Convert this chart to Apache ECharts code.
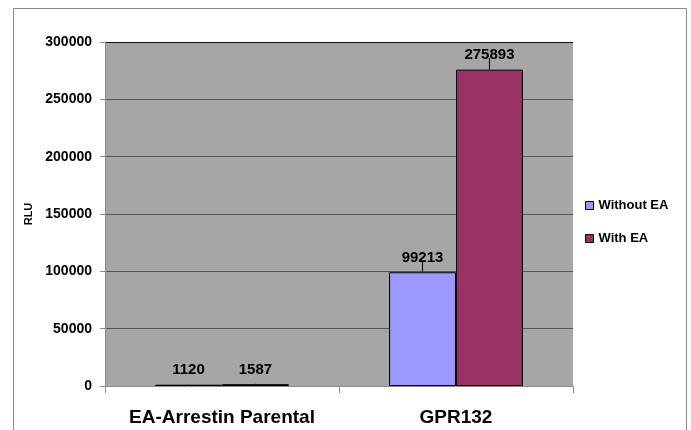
<!DOCTYPE html>
<html><head><meta charset="utf-8">
<script src="https://cdn.jsdelivr.net/npm/echarts@6/dist/echarts.min.js"></script>
<style>html,body{margin:0;padding:0;background:#fff}#c{width:691px;height:430px}</style>
</head><body><div id="c"></div>
<script>
const categories = ['EA-Arrestin Parental', 'GPR132'];
const withoutEA = [1120, 99213];
const withEA = [1587, 275893];
const withoutEAErr = [300, 9600];
const withEAErr = [300, 10000];
const yTicks = [0, 50000, 100000, 150000, 200000, 250000, 300000];

const FONT = 'Liberation Sans';
const BAR_FRAC = 0.286;

function errSeries(name, vals, errs, side) {
  return {
    type: 'custom', name: name + ' err', silent: true, z: 5,
    data: vals.map((v, i) => [i, v, errs[i]]),
    renderItem: function (params, api) {
      const c = api.value(0), v = api.value(1), e = api.value(2);
      const band = api.size([1, 0])[0];
      const off = side * band * BAR_FRAC / 2;
      const p0 = api.coord([c, v]);
      const p1 = api.coord([c, v + e]);
      return { type: 'line', shape: { x1: p0[0] + off, y1: p0[1], x2: p1[0] + off, y2: p1[1] },
        style: { stroke: '#000', lineWidth: 1 } };
    }
  };
}

const chart = echarts.init(document.getElementById('c'), null, { renderer: 'canvas' });
chart.setOption({
  animation: false,
  backgroundColor: '#fff',
  textStyle: { fontFamily: FONT },
  graphic: [{ type: 'rect', shape: { x: 13.5, y: 8.5, width: 673, height: 440 },
    style: { fill: 'none', stroke: '#8a8a8a', lineWidth: 1 }, z: -1 }],
  grid: { left: 105, right: 118, top: 42, bottom: 44, show: true, backgroundColor: '#a6a6a6', borderWidth: 0 },
  legend: {
    orient: 'vertical', left: 580, top: 194, itemWidth: 8, itemHeight: 8, itemGap: 20,
    icon: 'rect',
    data: [{ name: 'Without EA', itemStyle: { borderColor: '#000', borderWidth: 1 } },
           { name: 'With EA', itemStyle: { borderColor: '#000', borderWidth: 1 } }],
    textStyle: { fontFamily: FONT, fontWeight: 'bold', fontSize: 13, color: '#000' }
  },
  xAxis: {
    type: 'category', data: categories,
    axisLine: { lineStyle: { color: '#8c8c8c' } },
    axisTick: { show: true, interval: 0, length: 7, lineStyle: { color: '#8c8c8c' } },
    axisLabel: { interval: 0, hideOverlap: false, fontFamily: FONT, fontWeight: 'bold', fontSize: 19, color: '#000', margin: 22 }
  },
  yAxis: {
    type: 'value', min: 0, max: 300000, interval: 50000,
    name: 'RLU', nameLocation: 'middle', nameGap: 70, nameRotate: 90,
    nameTextStyle: { fontFamily: FONT, fontWeight: 'bold', fontSize: 11, color: '#000' },
    axisLine: { show: true, lineStyle: { color: '#8c8c8c' } },
    axisTick: { show: true, length: 5, lineStyle: { color: '#8c8c8c' } },
    axisLabel: { fontFamily: FONT, fontWeight: 'bold', fontSize: 14, color: '#000', margin: 13,
      formatter: v => yTicks.includes(v) ? String(v) : '' },
    splitLine: { lineStyle: { color: ['#555', '#555', '#555', '#555', '#555', '#555', '#111'], width: 1 } }
  },
  series: [
    { name: 'Without EA', type: 'bar', data: withoutEA, barWidth: (BAR_FRAC * 100) + '%', barGap: '0%',
      itemStyle: { color: '#9999ff', borderColor: '#000', borderWidth: 1 },
      label: { show: true, position: 'top', distance: 7, fontFamily: FONT, fontWeight: 'bold', fontSize: 15, color: '#000' } },
    { name: 'With EA', type: 'bar', data: withEA, barWidth: (BAR_FRAC * 100) + '%', barGap: '0%',
      itemStyle: { color: '#993366', borderColor: '#000', borderWidth: 1 },
      label: { show: true, position: 'top', distance: 7, fontFamily: FONT, fontWeight: 'bold', fontSize: 15, color: '#000' } },
    errSeries('Without EA', withoutEA, withoutEAErr, -1),
    errSeries('With EA', withEA, withEAErr, 1)
  ]
});
</script></body></html>
